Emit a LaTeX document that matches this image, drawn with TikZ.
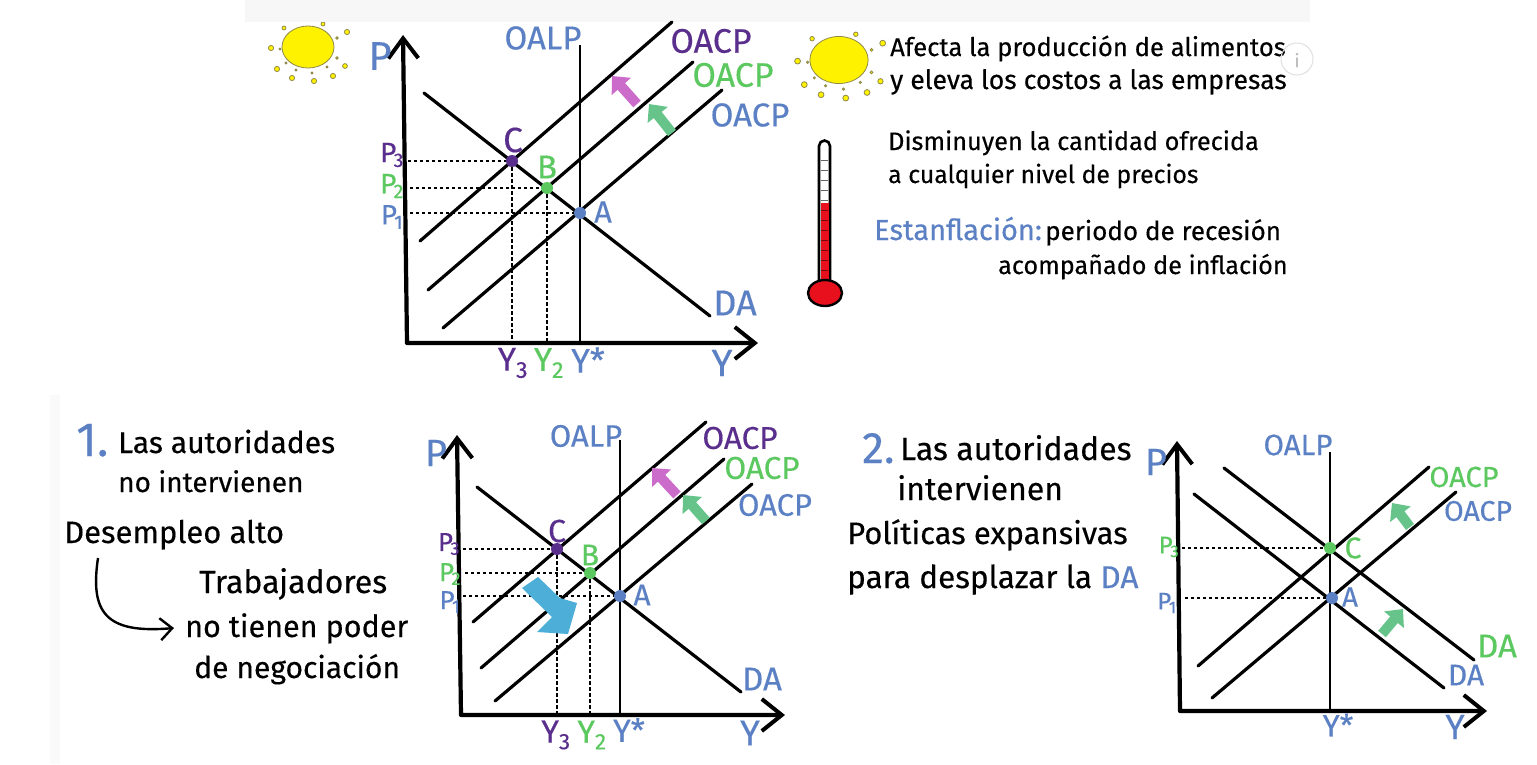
\documentclass[tikz,border=0pt]{standalone}
\usepackage{fontspec}
\setmainfont[FakeBold=0.35]{Fira Sans}
\usetikzlibrary{arrows.meta}
\definecolor{oablue}{HTML}{5B80C4}
\definecolor{oagreen}{HTML}{5CC860}
\definecolor{oapurple}{HTML}{5A2E8C}
\definecolor{shiftpink}{HTML}{CB6CCB}
\definecolor{shiftgreen}{HTML}{66C48A}
\definecolor{bigblue}{HTML}{4DAFD8}
\definecolor{thermred}{HTML}{E8101C}
\begin{document}
\begin{tikzpicture}[x=1pt,y=-1pt,
    axis/.style={line width=4.2pt,line join=round,{Straight Barb[length=20pt,width=30pt,line width=4pt]}-{Straight Barb[length=20pt,width=32pt,line width=4pt]}},
    curve/.style={line width=3.2pt,line cap=round},
    longrun/.style={line width=2.7pt},
    dots/.style={line width=2.8pt,dash pattern=on 3.4pt off 2.6pt},
    move arrow/.style={line width=10pt,-{Triangle[length=14pt,width=25pt]}},
    mark dot/.style={circle,inner sep=0pt,minimum size=12pt},
    lbl/.style={inner sep=0pt,font=\fontsize{#1}{#1}\selectfont},
    say/.style={inner sep=0pt,anchor=base west,font=\fontsize{#1}{#1}\selectfont}]
  \useasboundingbox (0,0) rectangle (1537,764);
  \fill[white] (0,0) rectangle (1537,764);

  % suns
  \foreach \sx/\sy/\sk in {308/47/1,839/60/1.12} {
    \begin{scope}[shift={(\sx,\sy)},scale=\sk]
      \draw[fill=yellow,draw=black!50!yellow,line width=.8pt] (0,0) ellipse [x radius=26,y radius=21];
      \foreach \dx/\dy/\dr in {-37/1/2.6,-28/2/1,-31/22/2.6,-16/31/2.6,6/34/2.6,25/29/2.6,37/19/2.4,39/-15/2.6,-24/-19/2,15/-23/2,29/-9/1.3,29/11/1.3,-12/23/1,4/26/1,19/20/1,-22/16/1}
        \draw[fill=yellow,draw=black!50!yellow,line width=.8pt] (\dx,\dy) circle [radius=\dr];
    \end{scope}
  }
  \fill[black!3] (245,0) rectangle (1310,22);
  \fill[black!2] (50,395) rectangle (60,764);

  % thermometer
  \draw[fill=white,line width=2.6pt] (819,285) -- (819,146) arc (180:360:5.5) -- (830,285);
  \foreach \ty in {160,170,...,200}
    \draw[black!60,line width=.8pt] (821,\ty) -- (828,\ty);
  \fill[thermred] (820.5,203) rectangle (828.5,285);
  \foreach \ty in {210,220,...,280}
    \draw[black!50!thermred,line width=.8pt] (821,\ty) -- (828,\ty);
  \draw[fill=thermred,line width=2.4pt] (825,293) ellipse [x radius=17,y radius=13];

  % top chart
  \coordinate (ptop1) at (403,35);
  \coordinate (ybase1) at (407,343);
  \coordinate (yend1) at (758,343);
  \coordinate (lr1) at (580,45);
  \coordinate (lrb1) at (580,343);
  \coordinate (y31) at (512,343);
  \coordinate (y21) at (547,343);
  \coordinate (p31) at (408,161);
  \coordinate (p21) at (410,188);
  \coordinate (p11) at (410,213);
  \draw[axis] (ptop1) -- (ybase1) -- (yend1);
  \path[curve]
    (424,93) edge (710,316)
    (420,241) edge (672,22)
    (428,290) edge (693,62)
    (443,328) edge (722,90);
  \path[longrun] (lr1) edge (lrb1);
  \node[mark dot,fill=oapurple] (C1) at (512,161) {};
  \node[mark dot,fill=oagreen] (B1) at (547,188) {};
  \node[mark dot,fill=oablue] (A1) at (580,213) {};
  \path[dots]
    (p31) edge[line width=1.8pt] (C1) (p21) edge[line width=2.2pt] (B1) (p11) edge (A1)
    (C1) edge (y31) (B1) edge[line width=2.2pt] (y21);
  \draw[move arrow,shiftpink] (637,104) -- (612,76);
  \draw[move arrow,shiftgreen] (672,133) -- (649,104);
  \node[lbl=33,text=oablue] (oalp1) at (543,38) {OALP};
  \node[lbl=34,text=oapurple] (oacpc1) at (711,41) {OACP};
  \node[lbl=34,text=oagreen] (oacpb1) at (733,75) {OACP};
  \node[lbl=33,text=oablue] (oacpa1) at (750,115) {OACP};
  \node[lbl=40,text=oablue] (pl1) at (380,56) {P};
  \node[lbl=35,text=oapurple] (cl1) at (513,140) {C};
  \node[lbl=33,text=oagreen] (bl1) at (547,167) {B};
  \node[lbl=31,text=oablue] (al1) at (603,212) {A};
  \node[lbl=28,text=oapurple] (p3l1) at (392,155) {P\kern-.1em\textsubscript{3}};
  \node[lbl=28,text=oagreen] (p2l1) at (392,186) {P\kern-.1em\textsubscript{2}};
  \node[lbl=28,text=oablue] (p1l1) at (392,217) {P\kern-.1em\textsubscript{1}};
  \node[lbl=36,text=oablue] (dl1) at (735,303) {DA};
  \node[lbl=33,text=oapurple] (y3l1) at (513,363) {Y\textsubscript{3}};
  \node[lbl=33,text=oagreen] (y2l1) at (549,363) {Y\textsubscript{2}};
  \node[lbl=34,text=oablue] (ysl1) at (588,360) {Y*};
  \node[lbl=38,text=oablue] (yl1) at (722,363) {Y};

  % top text
  \node[say=25.6] (t1) at (890,56) {Afecta la producción de alimentos};
  \node[say=26.6] (t2) at (890,89) {y eleva los costos a las empresas};
  \node[say=25.3] (t3) at (888,150) {Disminuyen la cantidad ofrecida};
  \node[say=24.8] (t4) at (888,183) {a cualquier nivel de precios};
  \node[say=29,text=oablue] (t5) at (874,240) {Estanflación:};
  \node[say=26] (t6) at (1045,240) {periodo de recesión};
  \node[say=25.2] (t7) at (998,274) {acompañado de inflación};
  \draw[black!12,line width=1pt] (1297,59) circle [radius=16];
  \node[lbl=18,text=black!25] (info) at (1297,60) {i};

  % left chart
  \coordinate (ptop2) at (457,435);
  \coordinate (ybase2) at (461,715);
  \coordinate (yend2) at (785,715);
  \coordinate (lr2) at (620,440);
  \coordinate (lrb2) at (620,715);
  \coordinate (y32) at (557,715);
  \coordinate (y22) at (590,715);
  \coordinate (p32) at (463,549);
  \coordinate (p22) at (465,573);
  \coordinate (p12) at (463,596);
  \draw[axis] (ptop2) -- (ybase2) -- (yend2);
  \path[curve]
    (477,487) edge (741,692)
    (473,622) edge (706,422)
    (481,668) edge (724,459)
    (495,701) edge (752,484);
  \path[longrun] (lr2) edge (lrb2);
  \node[mark dot,fill=oapurple] (C2) at (557,549) {};
  \node[mark dot,fill=oagreen] (B2) at (590,573) {};
  \node[mark dot,fill=oablue] (A2) at (620,596) {};
  \path[dots]
    (p32) edge[line width=1.8pt] (C2) (p22) edge[line width=2.2pt] (B2) (p12) edge (A2)
    (C2) edge (y32) (B2) edge[line width=2.2pt] (y22);
  \draw[move arrow,shiftpink] (677,495) -- (652,468);
  \draw[move arrow,shiftgreen] (706,521) -- (683,495);
  \fill[bigblue] (522,588) -- (538,577) -- (560,598) -- (577,603) -- (568,634) -- (537,632) -- (552,617) -- cycle;
  \node[lbl=31,text=oablue] (oalp2) at (586,436) {OALP};
  \node[lbl=31.5,text=oapurple] (oacpc2) at (740,438) {OACP};
  \node[lbl=31.5,text=oagreen] (oacpb2) at (762,468) {OACP};
  \node[lbl=31,text=oablue] (oacpa2) at (775,505) {OACP};
  \node[lbl=38,text=oablue] (pl2) at (436,453) {P};
  \node[lbl=32,text=oapurple] (cl2) at (557,531) {C};
  \node[lbl=30,text=oagreen] (bl2) at (590,555) {B};
  \node[lbl=30,text=oablue] (al2) at (642,595) {A};
  \node[lbl=26,text=oapurple] (p3l2) at (449,544) {P\kern-.1em\textsubscript{3}};
  \node[lbl=26,text=oagreen] (p2l2) at (450,574) {P\kern-.1em\textsubscript{2}};
  \node[lbl=26,text=oablue] (p1l2) at (450,602) {P\kern-.1em\textsubscript{1}};
  \node[lbl=33,text=oablue] (dl2) at (762,679) {DA};
  \node[lbl=32,text=oapurple] (y3l2) at (556,735) {Y\textsubscript{3}};
  \node[lbl=32,text=oagreen] (y2l2) at (592,735) {Y\textsubscript{2}};
  \node[lbl=32,text=oablue] (ysl2) at (629,730) {Y*};
  \node[lbl=36,text=oablue] (yl2) at (750,733) {Y};

  % left text
  \node[say=48,text=oablue] (n1) at (76,456) {1.};
  \node[say=30] (l1) at (118,453) {Las autoridades};
  \node[say=28] (l2) at (118,492) {no intervienen};
  \node[say=31] (l3) at (64,543) {Desempleo alto};
  \node[say=32] (l4) at (199,593) {Trabajadores};
  \node[say=30.5] (l5) at (185,637) {no tienen poder};
  \node[say=30] (l6) at (194,678) {de negociación};
  \coordinate (bendstart) at (98,558);
  \coordinate (bendend) at (174,628);
  \draw[line width=2.4pt,-{Straight Barb[length=12pt,width=22pt,line width=2.4pt]}] (bendstart) .. controls (90,612) and (105,634) .. (bendend);

  % right chart
  \coordinate (ptop3) at (1177,441);
  \coordinate (ybase3) at (1180,711);
  \coordinate (yend3) at (1487,711);
  \coordinate (lr3) at (1330,452);
  \coordinate (lrb3) at (1330,711);
  \coordinate (p33) at (1182,548);
  \coordinate (p13) at (1185,598);
  \draw[axis] (ptop3) -- (ybase3) -- (yend3);
  \path[curve]
    (1194,494) edge (1444,688)
    (1224,468) edge (1474,660)
    (1198,666) edge (1429,467)
    (1212,698) edge (1456,492);
  \path[longrun] (lr3) edge (lrb3);
  \node[mark dot,fill=oagreen] (C3) at (1330,548) {};
  \node[mark dot,fill=oablue] (A3) at (1332,598) {};
  \path[dots] (p33) edge (C3) (p13) edge (A3);
  \draw[move arrow,shiftgreen] (1410,527) -- (1392,503);
  \draw[move arrow,shiftgreen] (1382,634) -- (1403,609);
  \node[lbl=29.5,text=oablue] (oalp3) at (1298,445) {OALP};
  \node[lbl=29,text=oagreen] (oacpb3) at (1464,477) {OACP};
  \node[lbl=28.5,text=oablue] (oacpa3) at (1478,511) {OACP};
  \node[lbl=38,text=oablue] (pl3) at (1156,462) {P};
  \node[lbl=24,text=oagreen] (p3l3) at (1169,547) {P\kern-.1em\textsubscript{3}};
  \node[lbl=24,text=oablue] (p1l3) at (1167,603) {P\kern-.1em\textsubscript{1}};
  \node[lbl=30,text=oagreen] (cl3) at (1353,548) {C};
  \node[lbl=28,text=oablue] (al3) at (1350,597) {A};
  \node[lbl=33,text=oagreen] (dg3) at (1497,646) {DA};
  \node[lbl=30,text=oablue] (db3) at (1466,675) {DA};
  \node[lbl=31,text=oablue] (ysl3) at (1338,725) {Y*};
  \node[lbl=35,text=oablue] (yl3) at (1455,727) {Y};

  % right text
  \node[say=44,text=oablue] (n2) at (862,463) {2.};
  \node[say=32] (r1) at (900,460) {Las autoridades};
  \node[say=32] (r2) at (897,500) {intervienen};
  \node[say=31] (r3) at (847,544) {Políticas expansivas};
  \node[say=31.5] (r4) at (847,588) {para desplazar la \textcolor{oablue}{DA}};
\end{tikzpicture}
\end{document}
